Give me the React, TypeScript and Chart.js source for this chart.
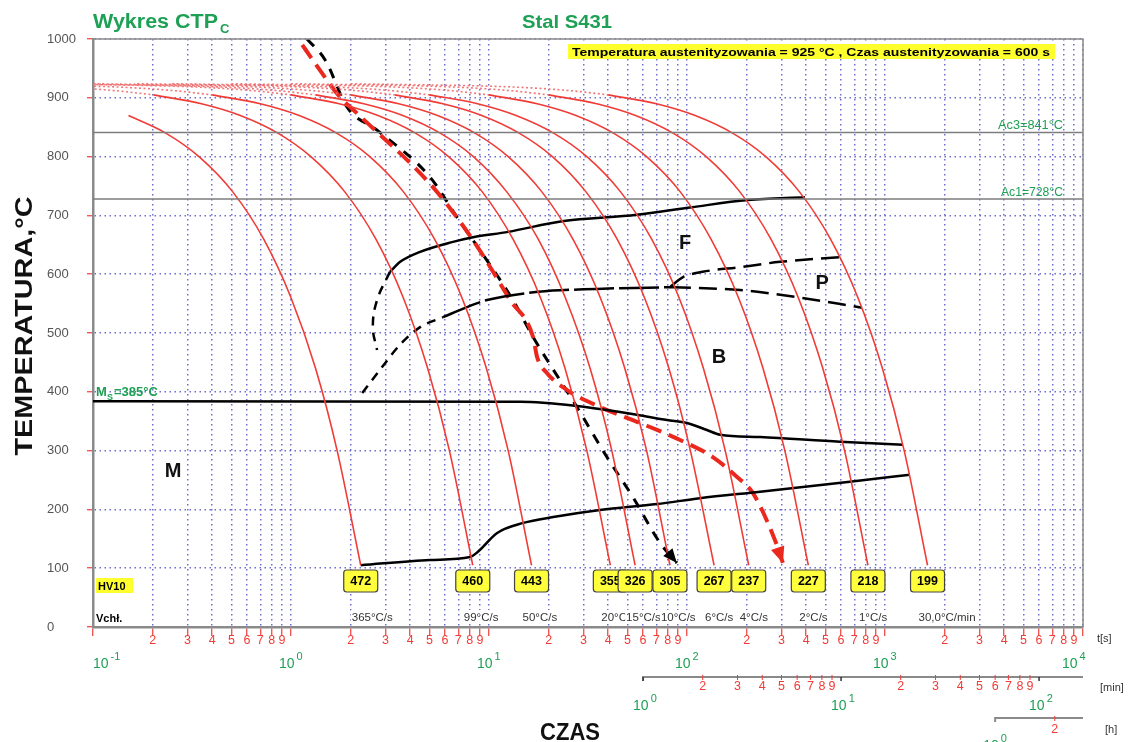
import React, { useEffect, useRef } from 'react';
import { Chart, registerables } from 'chart.js';
Chart.register(...registerables);

const FF = '"Liberation Sans", Arial, Helvetica, sans-serif';

// ---------- axis ticks ----------
const X_DECADES = [0.1, 1, 10, 100, 1000, 10000];
const X_DECADE_EXP = ['-1', '0', '1', '2', '3', '4'];
const X_MINOR = [2, 3, 4, 5, 6, 7, 8, 9];
const Y_TICKS = [0, 100, 200, 300, 400, 500, 600, 700, 800, 900, 1000];
const MIN_DECADES = [1, 10, 100];
const MIN_DECADE_EXP = ['0', '1', '2'];
const H_DECADES = [1];
const H_MINOR = [2];

// ---------- critical temperatures ----------
const AC3 = 841;
const AC1 = 728;

// ---------- cooling curves (time in s, temperature in °C) ----------
const COOL_TEMPS = [905, 890, 870, 840, 800, 740, 660, 560, 440, 300, 105];
const COOL_472_TEMPS = [870, 840, 800, 740, 660, 560, 440, 300, 105];
const COOL_472 = [0.151, 0.233, 0.343, 0.508, 0.727, 1.0, 1.33, 1.71, 2.25];
const COOL_460 = [0.202, 0.353, 0.555, 0.858, 1.26, 1.87, 2.68, 3.69, 4.9, 6.31, 8.28];
const COOL_443 = [0.4, 0.7, 1.1, 1.7, 2.5, 3.7, 5.3, 7.3, 9.7, 12.5, 16.4];
const COOL_355 = [1.0, 1.75, 2.75, 4.25, 6.25, 9.25, 13.2, 18.2, 24.2, 31.2, 41];
const COOL_326 = [1.33, 2.33, 3.67, 5.67, 8.34, 12.3, 17.7, 24.3, 32.4, 41.7, 54.7];
const COOL_305 = [2.0, 3.5, 5.5, 8.5, 12.5, 18.5, 26.5, 36.5, 48.5, 62.5, 82];
const COOL_267 = [3.34, 5.85, 9.19, 14.2, 20.9, 30.9, 44.3, 61.0, 81.0, 104, 137];
const COOL_237 = [5.0, 8.75, 13.7, 21.2, 31.2, 46.2, 66.2, 91.2, 121, 156, 205];
const COOL_227 = [10.0, 17.5, 27.5, 42.5, 62.5, 92.5, 132, 182, 242, 312, 410];
const COOL_218 = [20, 35, 55, 85, 125, 185, 265, 365, 485, 625, 820];
const COOL_199 = [40, 70, 110, 170, 250, 370, 530, 730, 970, 1250, 1640];

// dotted start of each curve (from austenitizing temperature)
const START_TEMPS = [924, 918, 912, 905];
const START_460 = [0.0101, 0.0707, 0.131, 0.202];
const START_443 = [0.02, 0.14, 0.26, 0.4];
const START_355 = [0.05, 0.35, 0.65, 1.0];
const START_326 = [0.067, 0.467, 0.867, 1.33];
const START_305 = [0.1, 0.7, 1.3, 2.0];
const START_267 = [0.167, 1.17, 2.17, 3.34];
const START_237 = [0.25, 1.75, 3.25, 5.0];
const START_227 = [0.5, 3.5, 6.5, 10.0];
const START_218 = [1.0, 7.0, 13.0, 20.0];
const START_199 = [2.0, 14.0, 26.0, 40.0];

const HV = ['472', '460', '443', '355', '326', '305', '267', '237', '227', '218', '199'];
const RATES = ['365°C/s', '99°C/s', '50°C/s', '20°C/s', '15°C/s', '10°C/s', '6°C/s', '4°C/s', '2°C/s', '1°C/s', '30,0°C/min'];

// ---------- transformation lines [t, T] ----------
const F_START = [[3.16, 604], [3.56, 621], [4.49, 638], [6.58, 655], [8.3, 663], [12.5, 672], [23.4, 690], [55.8, 701], [106, 714], [203, 726], [394, 731]];
const F_NOSE = [[3.16, 604], [2.72, 556], [2.59, 510], [2.72, 471]];
const B_START_A = [[2.29, 398], [2.81, 437], [3.55, 480], [4.49, 510], [5.86, 527]];
const B_START_B = [[5.86, 527], [7.74, 544], [9.78, 556], [17.7, 570], [35.1, 575], [84.9, 578]];
const P_FINISH = [[84.9, 578], [185, 573], [360, 561], [765, 543]];
const P_START = [[82, 578], [95.5, 595], [120, 604], [185, 612], [295, 621], [593, 629]];
const MS_LINE = [[0.1, 384], [14.4, 383], [27.8, 376], [39.4, 369], [55.8, 361], [79.2, 352], [100, 347], [126, 335], [147, 327], [234, 323], [593, 315], [1233, 310]];
const LOWER_LINE = [[2.25, 105], [5.04, 114], [8.02, 119], [8.79, 128], [11.0, 160], [14.9, 177], [21.1, 187], [36.4, 199], [70.5, 209], [116, 219], [234, 230], [665, 247], [1336, 259]];
const RED_PATH = [[1.14, 990], [1.29, 964], [1.77, 901], [2.15, 874], [5.21, 748], [8.3, 658], [12.8, 556], [16.7, 493], [17.5, 459], [19.6, 432], [24.8, 403], [36.4, 374], [57.9, 347], [92.3, 318], [135, 289], [179, 255], [215, 228], [278, 148], [305, 109]];
const BLACK_PATH = [[1.205, 1000], [1.49, 964], [1.92, 884], [2.72, 845], [5.04, 765], [6.89, 697], [8.3, 658], [13.2, 556], [16.7, 493], [22.8, 420], [27.8, 374], [39.4, 289], [53.3, 221], [73.1, 143], [88.9, 109]];

const REGION_LABELS: [string, number, number][] = [['F', 97.7, 653], ['P', 481, 585], ['B', 145, 459], ['M', 0.254, 265]];

const COOL = [COOL_472, COOL_460, COOL_443, COOL_355, COOL_326, COOL_305, COOL_267, COOL_237, COOL_227, COOL_218, COOL_199];
const STARTS = [START_460, START_443, START_355, START_326, START_305, START_267, START_237, START_227, START_218, START_199];

const pts = (times: number[], temps: number[]) => times.map((t, i) => ({ x: t, y: temps[i] }));
const pairs = (arr: number[][]) => arr.map(([x, y]) => ({ x, y }));

const RED = 'rgb(240,60,55)';
const GREEN = 'rgb(30,160,85)';
const GRID = 'rgba(85,85,200,0.85)';
const AXIS = '#8a8a8a';

function stretchText(ctx: any, s: string, x: number, y: number, font: string, color: string, width: number, align = 'left') {
  ctx.save();
  ctx.font = font;
  ctx.fillStyle = color;
  ctx.textBaseline = 'alphabetic';
  ctx.textAlign = 'left';
  const w = ctx.measureText(s).width;
  const k = width / w;
  const x0 = align === 'left' ? x : align === 'center' ? x - width / 2 : x - width;
  ctx.translate(x0, y);
  ctx.scale(k, 1);
  ctx.fillText(s, 0, 0);
  ctx.restore();
}

function text(ctx: any, s: string, x: number, y: number, font: string, color: string, align = 'left', baseline = 'alphabetic') {
  ctx.save();
  ctx.font = font;
  ctx.fillStyle = color;
  ctx.textAlign = align;
  ctx.textBaseline = baseline;
  ctx.fillText(s, x, y);
  ctx.restore();
}

function arrowHead(ctx: any, X: any, Y: any, path: number[][], color: string, len: number, half: number) {
  const n = path.length;
  const x1 = X(path[n - 1][0]), y1 = Y(path[n - 1][1]);
  const x0 = X(path[n - 2][0]), y0 = Y(path[n - 2][1]);
  const d = Math.hypot(x1 - x0, y1 - y0);
  const ux = (x1 - x0) / d, uy = (y1 - y0) / d;
  const bx = x1 - ux * len, by = y1 - uy * len;
  ctx.save();
  ctx.fillStyle = color;
  ctx.beginPath();
  ctx.moveTo(x1, y1);
  ctx.lineTo(bx - uy * half, by + ux * half);
  ctx.lineTo(bx + uy * half, by - ux * half);
  ctx.closePath();
  ctx.fill();
  ctx.restore();
}

function powerLabel(ctx: any, x: number, y: number, exp: string, big: number, small: number) {
  ctx.save();
  ctx.fillStyle = GREEN;
  ctx.textAlign = 'left';
  ctx.textBaseline = 'alphabetic';
  ctx.font = `${big}px ${FF}`;
  ctx.fillText('10', x, y);
  const w = ctx.measureText('10').width;
  ctx.font = `${small}px ${FF}`;
  ctx.fillText(exp, x + w + 2, y - big * 0.55);
  ctx.restore();
}

const overlay = {
  id: 'overlay',
  afterDatasetsDraw(chart: any) {
    const { ctx, chartArea: a } = chart;
    const xs = chart.scales.x, ys = chart.scales.y;
    const X = (v: number) => xs.getPixelForValue(v);
    const Y = (v: number) => ys.getPixelForValue(v);
    ctx.save();

    // frame top / right
    ctx.strokeStyle = AXIS;
    ctx.lineWidth = 1.5;
    ctx.beginPath();
    ctx.moveTo(a.left, a.top);
    ctx.lineTo(a.right, a.top);
    ctx.lineTo(a.right, a.bottom);
    ctx.stroke();

    // arrowheads
    arrowHead(ctx, X, Y, BLACK_PATH, '#000', 14, 6);
    arrowHead(ctx, X, Y, RED_PATH, 'rgb(235,40,30)', 16, 7);

    // titles
    stretchText(ctx, 'Wykres CTP', 93, 28, `bold 20px ${FF}`, GREEN, 125);
    text(ctx, 'C', 220, 33, `bold 13px ${FF}`, GREEN);
    stretchText(ctx, 'Stal S431', 567, 28, `bold 19px ${FF}`, GREEN, 90, 'center');

    // austenitizing info box
    ctx.fillStyle = 'rgb(255,255,45)';
    ctx.fillRect(568, 44, 487, 15);
    stretchText(ctx, 'Temperatura austenityzowania = 925 °C , Czas austenityzowania = 600 s', 572, 56, `bold 11px ${FF}`, '#000', 478);

    // Ac labels
    stretchText(ctx, 'Ac3=841°C', a.right - 20, Y(AC3) - 3, `12px ${FF}`, GREEN, 65, 'right');
    stretchText(ctx, 'Ac1=728°C', a.right - 20, Y(AC1) - 3, `12px ${FF}`, GREEN, 62, 'right');

    // Ms label
    text(ctx, 'M', 96, 396, `bold 13px ${FF}`, GREEN);
    text(ctx, 'S', 107, 400, `bold 9px ${FF}`, GREEN);
    text(ctx, '=385°C', 114, 396, `bold 13px ${FF}`, GREEN);

    // region letters
    REGION_LABELS.forEach(([s, t, T]) => text(ctx, s, X(t), Y(T), `bold 20px ${FF}`, '#111', 'center', 'middle'));

    // y tick labels
    Y_TICKS.forEach((v) => text(ctx, String(v), 47, Y(v), `13px ${FF}`, '#555', 'left', 'middle'));

    // HV10 + Vchl
    ctx.fillStyle = 'rgb(255,255,45)';
    ctx.fillRect(96, 578, 37, 15);
    text(ctx, 'HV10', 98, 590, `bold 11px ${FF}`, '#000');
    text(ctx, 'Vchł.', 96, 622, `bold 11px ${FF}`, '#000');

    // rate labels
    COOL.forEach((c, i) => {
      const px = X(c[c.length - 1]) - 9;
      ctx.font = `11.5px ${FF}`;
      const w = ctx.measureText(RATES[i]).width;
      ctx.fillStyle = '#fff';
      ctx.fillRect(px - 1, 610, w + 2, 14);
      text(ctx, RATES[i], px, 621, `11.5px ${FF}`, '#333');
    });

    // HV boxes
    COOL.forEach((c, i) => {
      const cx = X(c[c.length - 1]);
      const bw = 34, bh = 22, bx = cx - bw / 2, by = 570;
      ctx.beginPath();
      ctx.roundRect(bx, by, bw, bh, 3);
      ctx.fillStyle = 'rgb(255,255,60)';
      ctx.fill();
      ctx.strokeStyle = '#444';
      ctx.lineWidth = 1.2;
      ctx.stroke();
      text(ctx, HV[i], cx, by + bh / 2 + 1, `bold 12.5px ${FF}`, '#000', 'center', 'middle');
    });

    // x axis digits
    X_DECADES.slice(0, -1).forEach((d) => {
      X_MINOR.forEach((m) => text(ctx, String(m), X(d * m), 641, `12.5px ${FF}`, RED, 'center', 'middle'));
    });
    X_DECADES.forEach((d, i) => {
      const px = Math.min(Math.max(X(d) - 12, a.left), a.right - 21);
      powerLabel(ctx, px, 668, X_DECADE_EXP[i], 14, 11);
    });
    text(ctx, 't[s]', 1097, 642, `11px ${FF}`, '#333');

    // minutes axis
    const my = 677;
    ctx.strokeStyle = AXIS;
    ctx.lineWidth = 2;
    ctx.beginPath();
    ctx.moveTo(X(MIN_DECADES[0] * 60), my + 4);
    ctx.lineTo(X(MIN_DECADES[0] * 60), my);
    ctx.lineTo(a.right, my);
    ctx.stroke();
    MIN_DECADES.slice(0, 2).forEach((d) => {
      X_MINOR.forEach((m) => {
        const px = X(d * m * 60);
        ctx.strokeStyle = RED;
        ctx.lineWidth = 1;
        ctx.beginPath();
        ctx.moveTo(px, my - 2);
        ctx.lineTo(px, my + 3);
        ctx.stroke();
        text(ctx, String(m), px, 687, `12.5px ${FF}`, RED, 'center', 'middle');
      });
    });
    MIN_DECADES.forEach((d, i) => {
      const px = X(d * 60);
      ctx.strokeStyle = '#333';
      ctx.lineWidth = 1.5;
      ctx.beginPath();
      ctx.moveTo(px, my);
      ctx.lineTo(px, my + 4);
      ctx.stroke();
      powerLabel(ctx, px - 10, 710, MIN_DECADE_EXP[i], 14, 11);
    });
    text(ctx, '[min]', 1100, 691, `11px ${FF}`, '#333');

    // hours axis
    const hy = 718;
    ctx.strokeStyle = AXIS;
    ctx.lineWidth = 2;
    ctx.beginPath();
    ctx.moveTo(X(H_DECADES[0] * 3600), hy + 4);
    ctx.lineTo(X(H_DECADES[0] * 3600), hy);
    ctx.lineTo(a.right, hy);
    ctx.stroke();
    H_MINOR.forEach((m) => {
      const px = X(m * 3600);
      ctx.strokeStyle = RED;
      ctx.lineWidth = 1;
      ctx.beginPath();
      ctx.moveTo(px, hy - 2);
      ctx.lineTo(px, hy + 3);
      ctx.stroke();
      text(ctx, String(m), px, 730, `12.5px ${FF}`, RED, 'center', 'middle');
    });
    H_DECADES.forEach((d) => powerLabel(ctx, X(d * 3600) - 12, 750, '0', 14, 11));
    text(ctx, '[h]', 1105, 733, `11px ${FF}`, '#333');

    // axis titles
    ctx.save();
    ctx.translate(32, 326);
    ctx.rotate(-Math.PI / 2);
    stretchText(ctx, 'TEMPERATURA,°C', 0, 0, `bold 24px ${FF}`, '#111', 259, 'center');
    ctx.restore();
    stretchText(ctx, 'CZAS', 570, 740, `bold 23px ${FF}`, '#111', 60, 'center');

    ctx.restore();
  },
};

function line(data: any[], color: string, width: number, extra: any = {}) {
  return {
    data,
    showLine: true,
    borderColor: color,
    backgroundColor: color,
    borderWidth: width,
    pointRadius: 0,
    fill: false,
    cubicInterpolationMode: 'monotone',
    ...extra,
  };
}

export default function App() {
  const ref = useRef<HTMLCanvasElement | null>(null);
  useEffect(() => {
    if (!ref.current) return;
    const datasets: any[] = [];
    datasets.push(line([{ x: 0.1, y: AC3 }, { x: 10000, y: AC3 }], '#7d7d7d', 1.6));
    datasets.push(line([{ x: 0.1, y: AC1 }, { x: 10000, y: AC1 }], '#7d7d7d', 1.6));
    STARTS.forEach((s) => datasets.push(line(pts(s, START_TEMPS), 'rgba(240,105,105,0.9)', 1.6, { borderDash: [2, 2.5] })));
    COOL.forEach((c, i) => datasets.push(line(pts(c, i === 0 ? COOL_472_TEMPS : COOL_TEMPS), RED, 1.6)));
    datasets.push(line(pairs(F_START), '#000', 2.5));
    datasets.push(line(pairs(F_NOSE), '#000', 2.5, { borderDash: [9, 7], cubicInterpolationMode: 'default', tension: 0.4 }));
    datasets.push(line(pairs(B_START_A), '#000', 2.5, { borderDash: [9, 7] }));
    datasets.push(line(pairs(B_START_B), '#000', 2.5, { borderDash: [40, 5] }));
    datasets.push(line(pairs(P_FINISH), '#000', 2.5, { borderDash: [18, 8] }));
    datasets.push(line(pairs(P_START), '#000', 2.5, { borderDash: [18, 8] }));
    datasets.push(line(pairs(MS_LINE), '#000', 2.5));
    datasets.push(line(pairs(LOWER_LINE), '#000', 2.5));
    datasets.push(line(pairs(RED_PATH), 'rgb(235,40,30)', 4, { borderDash: [16, 8] }));
    datasets.push(line(pairs(BLACK_PATH), '#000', 3, { borderDash: [10, 9] }));

    const xTicks: number[] = [];
    X_DECADES.forEach((d, i) => {
      xTicks.push(d);
      if (i < X_DECADES.length - 1) X_MINOR.forEach((m) => xTicks.push(d * m));
    });

    const chart = new Chart(ref.current, {
      type: 'scatter',
      data: { datasets },
      options: {
        animation: false,
        responsive: true,
        maintainAspectRatio: false,
        layout: { padding: { top: 39, right: 49, left: 0, bottom: 0 } },
        plugins: { legend: { display: false }, tooltip: { enabled: false } },
        scales: {
          x: {
            type: 'logarithmic',
            min: 0.1,
            max: 10000,
            afterBuildTicks: (s: any) => {
              s.ticks = xTicks.map((v) => ({ value: v }));
            },
            afterFit: (s: any) => {
              s.height = 115;
            },
            ticks: { display: false },
            grid: { color: GRID, lineWidth: 1.5, tickColor: RED, tickLength: 9, tickWidth: 1.2 },
            border: { display: true, color: AXIS, width: 2.5, dash: [1.5, 3.5] },
          },
          y: {
            min: 0,
            max: 1000,
            ticks: { display: false, stepSize: 100 },
            afterFit: (s: any) => {
              s.width = 93;
            },
            grid: { color: GRID, lineWidth: 1.5, tickColor: RED, tickLength: 6, tickWidth: 1.2 },
            border: { display: true, color: AXIS, width: 2.5, dash: [1.5, 3.5] },
          },
        },
      } as any,
      plugins: [overlay],
    });
    return () => chart.destroy();
  }, []);
  return (
    <div style={{ position: 'absolute', left: 0, top: 0, width: 1132, height: 742, background: '#fff' }}>
      <canvas ref={ref} />
    </div>
  );
}
